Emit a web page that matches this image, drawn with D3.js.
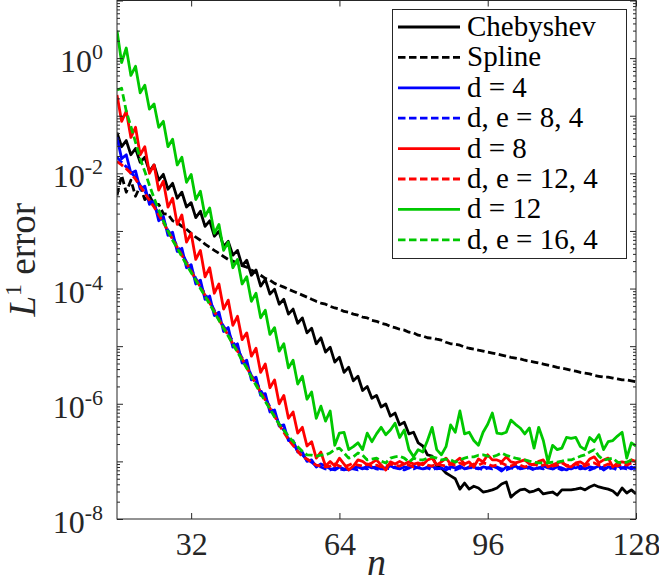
<!DOCTYPE html>
<html>
<head>
<meta charset="utf-8">
<script src="https://cdn.jsdelivr.net/npm/d3@7"></script>
<style>
  body { margin: 0; background: #fff; }
  svg { display: block; font-family: "Liberation Serif", "DejaVu Serif", serif; }
</style>
</head>
<body>
<div id="chart"></div>
<script>
// n runs over every integer from 16 to 128
const nFirst = 16, nLast = 128;
const nValues = d3.range(nFirst, nLast + 1);
const xTicks = [32, 64, 96, 128];
const yLabelExponents = [-8, -6, -4, -2, 0];

const chebyshev = [
  5.1e-2, 2.9e-2, 3.7e-2, 2.1e-2, 2.7e-2, 1.55e-2, 1.9e-2, 1.08e-2, 1.4e-2, 7.6e-3,
  9.6e-3, 5.3e-3, 6.7e-3, 3.7e-3, 4.7e-3, 2.6e-3, 3.1e-3, 1.7e-3, 2.2e-3, 1.2e-3,
  1.5e-3, 8.1e-4, 9.9e-4, 5.4e-4, 6.6e-4, 3.8e-4, 4.6e-4, 2.5e-4, 3.1e-4, 1.7e-4,
  2.1e-4, 1.1e-4, 1.45e-4, 8.0e-5, 9.7e-5, 5.35e-5, 6.5e-5, 3.6e-5, 4.4e-5, 2.5e-5,
  3.1e-5, 1.7e-5, 2.05e-5, 1.1e-5, 1.4e-5, 7.9e-6, 9.6e-6, 5.3e-6, 6.4e-6, 3.5e-6,
  4.3e-6, 2.5e-6, 3.0e-6, 1.7e-6, 2.0e-6, 1.25e-6, 1.4e-6, 8.8e-7, 9.9e-7, 6.1e-7,
  6.9e-7, 4.3e-7, 4.8e-7, 3.0e-7, 3.2e-7, 2.1e-7, 1.85e-7, 1.3e-7, 1.24e-7, 8.3e-8,
  7.7e-8, 6.3e-8, 5.6e-8, 5.0e-8, 3.3e-8, 4.2e-8, 3.3e-8, 3.7e-8, 3.45e-8, 2.94e-8,
  3.06e-8, 3.2e-8, 3.45e-8, 4.05e-8, 4.4e-8, 2.4e-8, 2.83e-8, 3.2e-8, 3.3e-8, 2.94e-8,
  3.06e-8, 3.3e-8, 2.72e-8, 2.83e-8, 2.94e-8, 2.6e-8, 3.2e-8, 3.2e-8, 3.2e-8, 3.3e-8,
  3.45e-8, 3.2e-8, 3.6e-8, 3.9e-8, 3.6e-8, 3.45e-8, 3.3e-8, 3.06e-8, 2.6e-8, 3.45e-8,
  2.83e-8, 3.2e-8, 2.72e-8
];

const spline = [
  4.15e-3, 9.2e-3, 4.7e-3, 7.6e-3, 4.0e-3, 6.0e-3, 3.5e-3, 4.15e-3, 2.8e-3, 2.9e-3,
  2.0e-3, 1.95e-3, 1.5e-3, 1.4e-3, 1.2e-3, 1.07e-3, 9.1e-4, 7.8e-4, 6.9e-4, 5.9e-4,
  5.2e-4, 4.6e-4, 4.1e-4, 3.6e-4, 3.2e-4, 3.0e-4, 2.75e-4, 2.5e-4, 2.35e-4, 2.1e-4,
  1.9e-4, 1.7e-4, 1.5e-4, 1.4e-4, 1.23e-4, 1.14e-4, 1.06e-4, 9.7e-5, 9.0e-5, 8.3e-5,
  7.7e-5, 7.1e-5, 6.5e-5, 6.0e-5, 5.6e-5, 5.35e-5, 4.9e-5, 4.6e-5, 4.4e-5, 4.0e-5,
  3.9e-5, 3.6e-5, 3.45e-5, 3.2e-5, 3.1e-5, 2.8e-5, 2.7e-5, 2.5e-5, 2.4e-5, 2.2e-5,
  2.1e-5, 1.97e-5, 1.9e-5, 1.75e-5, 1.7e-5, 1.55e-5, 1.5e-5, 1.4e-5, 1.38e-5, 1.32e-5,
  1.27e-5, 1.17e-5, 1.1e-5, 1.08e-5, 1.04e-5, 9.6e-6, 9.2e-6, 8.9e-6, 8.5e-6, 8.2e-6,
  7.9e-6, 7.6e-6, 7.3e-6, 7.0e-6, 6.7e-6, 6.4e-6, 6.2e-6, 6.0e-6, 5.7e-6, 5.5e-6,
  5.3e-6, 5.1e-6, 4.9e-6, 4.7e-6, 4.5e-6, 4.3e-6, 4.15e-6, 4.0e-6, 3.8e-6, 3.7e-6,
  3.5e-6, 3.4e-6, 3.3e-6, 3.1e-6, 3.0e-6, 2.9e-6, 2.9e-6, 2.8e-6, 2.7e-6, 2.6e-6,
  2.6e-6, 2.5e-6, 2.4e-6
];

const d4 = [
  4.2e-2, 1.8e-2, 2.1e-2, 1.0e-2, 1.1e-2, 5.3e-3, 6.0e-3, 2.9e-3, 3.3e-3, 1.5e-3,
  1.8e-3, 8.4e-4, 9.5e-4, 4.4e-4, 5.0e-4, 2.3e-4, 2.6e-4, 1.2e-4, 1.4e-4, 6.5e-5,
  7.4e-5, 3.4e-5, 3.9e-5, 1.8e-5, 2.1e-5, 9.6e-6, 1.1e-5, 5.1e-6, 5.7e-6, 2.6e-6,
  2.9e-6, 1.4e-6, 1.5e-6, 7.2e-7, 7.8e-7, 4.1e-7, 4.3e-7, 2.3e-7, 2.3e-7, 1.45e-7,
  1.45e-7, 1.0e-7, 1.06e-7, 8.0e-8, 9.0e-8, 8.3e-8, 7.4e-8, 7.1e-8, 8.0e-8, 7.4e-8,
  7.1e-8, 7.7e-8, 8.0e-8, 7.4e-8, 8.3e-8, 7.7e-8, 8.0e-8, 7.4e-8, 7.7e-8, 8.3e-8,
  7.7e-8, 7.4e-8, 8.0e-8, 7.7e-8, 8.3e-8, 7.7e-8, 7.4e-8, 8.0e-8, 8.3e-8, 7.4e-8,
  7.7e-8, 7.1e-8, 8.0e-8, 7.7e-8, 8.3e-8, 7.4e-8, 7.7e-8, 8.0e-8, 7.4e-8, 8.0e-8,
  7.7e-8, 8.3e-8, 7.7e-8, 6.8e-8, 8.0e-8, 7.7e-8, 8.3e-8, 7.4e-8, 7.7e-8, 8.0e-8,
  7.4e-8, 7.7e-8, 8.3e-8, 7.7e-8, 7.4e-8, 8.0e-8, 7.7e-8, 7.1e-8, 8.0e-8, 7.7e-8,
  8.3e-8, 7.4e-8, 8.0e-8, 7.7e-8, 8.3e-8, 7.1e-8, 8.0e-8, 7.7e-8, 8.3e-8, 7.7e-8,
  8.0e-8, 7.4e-8, 8.0e-8
];

const d8e4 = [
  1.9e-2, 1.55e-2, 1.3e-2, 1.04e-2, 8.5e-3, 6.2e-3, 4.9e-3, 3.5e-3, 2.8e-3, 1.95e-3,
  1.5e-3, 1.03e-3, 7.8e-4, 5.4e-4, 4.1e-4, 2.9e-4, 2.2e-4, 1.5e-4, 1.1e-4, 8.0e-5,
  6.0e-5, 4.2e-5, 3.2e-5, 2.2e-5, 1.7e-5, 1.2e-5, 8.9e-6, 6.2e-6, 4.7e-6, 3.1e-6,
  2.4e-6, 1.7e-6, 1.25e-6, 8.8e-7, 6.9e-7, 4.4e-7, 3.5e-7, 2.5e-7, 2.1e-7, 1.5e-7,
  1.3e-7, 1.06e-7, 9.7e-8, 8.3e-8, 8.0e-8, 7.4e-8, 7.1e-8, 7.7e-8, 7.4e-8, 7.1e-8,
  7.7e-8, 7.4e-8, 7.1e-8, 7.7e-8, 7.4e-8, 8.0e-8, 7.4e-8, 7.1e-8, 7.7e-8, 7.4e-8,
  8.0e-8, 7.4e-8, 7.1e-8, 7.7e-8, 7.4e-8, 8.0e-8, 7.4e-8, 7.7e-8, 7.1e-8, 7.7e-8,
  7.4e-8, 8.0e-8, 7.4e-8, 7.1e-8, 7.7e-8, 7.4e-8, 8.0e-8, 7.4e-8, 7.7e-8, 7.1e-8,
  7.7e-8, 7.4e-8, 8.0e-8, 7.4e-8, 7.1e-8, 7.7e-8, 7.4e-8, 8.0e-8, 7.4e-8, 7.7e-8,
  7.1e-8, 7.7e-8, 7.4e-8, 8.0e-8, 7.4e-8, 7.7e-8, 7.1e-8, 7.7e-8, 7.4e-8, 8.0e-8,
  7.4e-8, 7.7e-8, 7.1e-8, 7.7e-8, 7.4e-8, 8.0e-8, 7.4e-8, 7.7e-8, 7.1e-8, 7.7e-8,
  7.4e-8, 8.0e-8, 7.4e-8
];

const d8 = [
  2.3e-1, 8.0e-2, 1.2e-1, 4.2e-2, 6.3e-2, 2.1e-2, 2.9e-2, 1.0e-2, 1.4e-2, 5.1e-3,
  7.3e-3, 2.6e-3, 3.7e-3, 1.3e-3, 1.9e-3, 6.4e-4, 9.1e-4, 3.2e-4, 4.6e-4, 1.6e-4,
  2.3e-4, 8.3e-5, 1.2e-4, 4.4e-5, 6.3e-5, 2.3e-5, 3.3e-5, 1.3e-5, 1.7e-5, 6.7e-6,
  9.2e-6, 3.5e-6, 4.9e-6, 1.9e-6, 2.6e-6, 1.0e-6, 1.4e-6, 5.6e-7, 7.2e-7, 3.1e-7,
  3.9e-7, 1.85e-7, 2.2e-7, 1.14e-7, 1.45e-7, 8.3e-8, 1.0e-7, 8.3e-8, 1.14e-7, 9.0e-8,
  7.1e-8, 8.3e-8, 1.06e-7, 1.0e-7, 8.7e-8, 9.4e-8, 1.06e-7, 8.7e-8, 7.1e-8, 9.8e-8,
  9.0e-8, 1.0e-7, 9.0e-8, 9.8e-8, 9.0e-8, 9.4e-8, 8.7e-8, 1.06e-7, 1.14e-7, 8.7e-8,
  9.8e-8, 1.14e-7, 9.0e-8, 9.8e-8, 1.14e-7, 9.0e-8, 9.8e-8, 8.0e-8, 1.1e-7, 9.8e-8,
  1.3e-7, 1.06e-7, 1.06e-7, 9.8e-8, 1.2e-7, 9.8e-8, 9.4e-8, 1.0e-7, 1.06e-7, 9.0e-8,
  8.7e-8, 1.0e-7, 1.06e-7, 8.0e-8, 8.7e-8, 9.4e-8, 9.8e-8, 8.3e-8, 8.0e-8, 9.4e-8,
  9.8e-8, 8.7e-8, 1.1e-7, 1.2e-7, 9.4e-8, 1.06e-7, 1.14e-7, 8.0e-8, 9.4e-8, 9.8e-8,
  9.4e-8, 1.06e-7, 1.0e-7
];

const d12e4 = [
  1.6e-2, 1.4e-2, 1.2e-2, 1.0e-2, 7.9e-3, 6.0e-3, 4.5e-3, 3.4e-3, 2.6e-3, 1.9e-3,
  1.4e-3, 9.9e-4, 7.2e-4, 5.2e-4, 3.8e-4, 2.75e-4, 2.0e-4, 1.45e-4, 1.06e-4, 7.7e-5,
  5.6e-5, 4.0e-5, 2.9e-5, 2.1e-5, 1.55e-5, 1.1e-5, 8.2e-6, 6.0e-6, 4.3e-6, 3.0e-6,
  2.2e-6, 1.6e-6, 1.16e-6, 8.4e-7, 6.1e-7, 4.3e-7, 3.2e-7, 2.4e-7, 1.9e-7, 1.5e-7,
  1.2e-7, 1.1e-7, 9.7e-8, 8.6e-8, 8.3e-8, 8.0e-8, 8.3e-8, 9.0e-8, 8.3e-8, 8.0e-8,
  8.6e-8, 9.4e-8, 8.6e-8, 8.3e-8, 9.0e-8, 8.3e-8, 8.6e-8, 8.0e-8, 8.3e-8, 9.0e-8,
  8.6e-8, 8.3e-8, 9.0e-8, 8.6e-8, 8.0e-8, 8.6e-8, 9.4e-8, 8.6e-8, 8.3e-8, 9.0e-8,
  8.6e-8, 8.3e-8, 9.0e-8, 8.6e-8, 9.4e-8, 8.6e-8, 8.3e-8, 9.0e-8, 8.6e-8, 9.4e-8,
  9.0e-8, 8.3e-8, 8.6e-8, 9.4e-8, 8.6e-8, 8.3e-8, 9.0e-8, 8.6e-8, 8.0e-8, 8.6e-8,
  9.0e-8, 8.3e-8, 8.6e-8, 9.0e-8, 8.3e-8, 8.6e-8, 9.4e-8, 8.6e-8, 8.3e-8, 9.0e-8,
  8.6e-8, 8.3e-8, 9.0e-8, 9.4e-8, 8.6e-8, 8.3e-8, 9.0e-8, 8.6e-8, 8.3e-8, 9.0e-8,
  8.6e-8, 9.4e-8, 9.0e-8
];

const d12 = [
  3.0, 0.84, 1.5, 0.50, 0.72, 0.25, 0.34, 0.13, 0.16, 6.3e-2,
  8.0e-2, 2.9e-2, 3.9e-2, 1.4e-2, 1.9e-2, 7.0e-3, 9.6e-3, 3.5e-3, 4.9e-3, 1.8e-3,
  2.5e-3, 9.1e-4, 1.3e-3, 4.6e-4, 6.4e-4, 2.3e-4, 3.2e-4, 1.2e-4, 1.6e-4, 6.0e-5,
  8.3e-5, 3.1e-5, 4.2e-5, 1.6e-5, 2.1e-5, 8.2e-6, 1.1e-5, 4.2e-6, 5.7e-6, 2.2e-6,
  3.0e-6, 1.2e-6, 1.6e-6, 5.6e-7, 9.1e-7, 5.0e-7, 7.5e-7, 1.9e-7, 3.1e-7, 3.2e-7,
  1.6e-7, 1.8e-7, 2.1e-7, 1.6e-7, 3.1e-7, 2.2e-7, 3.0e-7, 3.9e-7, 2.9e-7, 3.5e-7,
  4.6e-7, 2.6e-7, 3.5e-7, 1.6e-7, 1.2e-7, 1.6e-7, 1.45e-7, 2.3e-7, 3.9e-7, 1.6e-7,
  1.3e-7, 1.8e-7, 4.3e-7, 3.2e-7, 7.5e-7, 3.0e-7, 3.2e-7, 2.3e-7, 1.9e-7, 3.2e-7,
  4.4e-7, 6.9e-7, 3.1e-7, 3.0e-7, 3.2e-7, 5.2e-7, 4.4e-7, 3.8e-7, 3.0e-7, 3.8e-7,
  1.7e-7, 3.9e-7, 2.3e-7, 9.8e-8, 1.9e-7, 1.6e-7, 1.7e-7, 2.6e-7, 2.5e-7, 2.6e-7,
  1.8e-7, 1.6e-7, 2.6e-7, 2.2e-7, 2.9e-7, 1.6e-7, 2.2e-7, 2.3e-7, 2.75e-7, 3.2e-7,
  1.14e-7, 2.1e-7, 1.85e-7
];

const d16e4 = [
  2.8e-1, 3.0e-1, 1.2e-1, 6.5e-2, 3.45e-2, 1.8e-2, 1.08e-2, 6.2e-3, 3.7e-3, 2.3e-3,
  1.5e-3, 9.9e-4, 6.9e-4, 5.0e-4, 3.6e-4, 2.6e-4, 1.9e-4, 1.4e-4, 1.0e-4, 7.4e-5,
  5.35e-5, 3.9e-5, 2.8e-5, 2.05e-5, 1.5e-5, 1.08e-5, 7.9e-6, 5.7e-6, 4.15e-6, 2.9e-6,
  2.1e-6, 1.5e-6, 1.1e-6, 8.1e-7, 5.9e-7, 4.4e-7, 3.5e-7, 2.75e-7, 2.2e-7, 1.8e-7,
  1.5e-7, 1.3e-7, 1.28e-7, 1.23e-7, 1.28e-7, 1.3e-7, 1.4e-7, 1.6e-7, 1.7e-7, 1.4e-7,
  1.14e-7, 1.2e-7, 1.4e-7, 1.28e-7, 1.06e-7, 1.1e-7, 1.14e-7, 1.01e-7, 9.4e-8, 1.14e-7,
  1.2e-7, 1.23e-7, 1.14e-7, 9.7e-8, 1.14e-7, 1.06e-7, 1.06e-7, 1.14e-7, 1.2e-7, 1.14e-7,
  1.06e-7, 1.1e-7, 1.06e-7, 9.7e-8, 1.06e-7, 1.14e-7, 1.2e-7, 1.2e-7, 1.28e-7, 1.3e-7,
  1.23e-7, 1.2e-7, 1.28e-7, 1.4e-7, 1.28e-7, 1.2e-7, 1.14e-7, 1.1e-7, 1.06e-7, 1.01e-7,
  9.7e-8, 9.4e-8, 9.4e-8, 9.4e-8, 9.7e-8, 9.7e-8, 1.01e-7, 1.06e-7, 1.06e-7, 1.14e-7,
  1.23e-7, 1.3e-7, 1.45e-7, 1.6e-7, 1.23e-7, 1.06e-7, 1.1e-7, 1.14e-7, 9.7e-8, 9.4e-8,
  9.7e-8, 1.06e-7, 1.01e-7
];

const series = [
  { label: "Chebyshev",   values: chebyshev, color: "#000000", dashed: false },
  { label: "Spline",      values: spline,    color: "#000000", dashed: true },
  { label: "d = 4",       values: d4,        color: "#0000ff", dashed: false },
  { label: "d, e = 8, 4", values: d8e4,      color: "#0000ff", dashed: true },
  { label: "d = 8",       values: d8,        color: "#ff0000", dashed: false },
  { label: "d, e = 12, 4", values: d12e4,    color: "#ff0000", dashed: true },
  { label: "d = 12",      values: d12,       color: "#00c800", dashed: false },
  { label: "d, e = 16, 4", values: d16e4,    color: "#00c800", dashed: true }
];

const width = 659, height = 584;
const margin = { top: 0.5, right: 23, bottom: 65, left: 117 };
const innerRight = width - margin.right;
const innerBottom = height - margin.bottom;
const axisColor = "#262626";
const dashPattern = "7.5,3.5";

const svg = d3.select("#chart")
    .append("svg")
    .attr("width", width)
    .attr("height", height);

const x = d3.scaleLinear()
    .domain([nFirst, nLast])
    .range([margin.left, innerRight]);

const y = d3.scaleLog()
    .domain([1e-8, 10])
    .range([innerBottom, margin.top]);

const decades = d3.range(-8, 2).map(e => Math.pow(10, e));
const minorTicks = [];
d3.range(-8, 1).forEach(e => {
    for (let m = 2; m <= 9; m++) minorTicks.push(m * Math.pow(10, e));
});

svg.append("clipPath")
    .attr("id", "plot-clip")
    .append("rect")
    .attr("x", margin.left)
    .attr("y", margin.top)
    .attr("width", innerRight - margin.left)
    .attr("height", innerBottom - margin.top);

// lines
const line = d3.line()
    .x((d, i) => x(nValues[i]))
    .y(d => y(d));

svg.append("g")
    .attr("clip-path", "url(#plot-clip)")
    .selectAll("path")
    .data(series)
    .join("path")
    .attr("fill", "none")
    .attr("stroke", d => d.color)
    .attr("stroke-width", 2.8)
    .attr("stroke-linejoin", "round")
    .attr("stroke-dasharray", d => d.dashed ? dashPattern : null)
    .attr("d", d => line(d.values));

// axes (ticks point inward, box on)
function styleAxis(g) {
    g.attr("color", axisColor).attr("font-family", null).attr("font-size", null);
    g.select(".domain").remove();
}

svg.append("g")
    .attr("transform", `translate(0,${innerBottom})`)
    .call(d3.axisBottom(x).tickValues(xTicks).tickSizeInner(-6).tickSizeOuter(0))
    .call(styleAxis)
    .call(g => g.selectAll("text")
        .attr("y", 36)
        .attr("dy", null)
        .attr("fill", axisColor)
        .style("font-size", "32px"));

svg.append("g")
    .attr("transform", `translate(0,${margin.top})`)
    .call(d3.axisTop(x).tickValues(xTicks).tickSizeInner(-6).tickSizeOuter(0).tickFormat(""))
    .call(styleAxis);

[[d3.axisLeft, margin.left], [d3.axisRight, innerRight]].forEach(([axisFn, pos]) => {
    svg.append("g")
        .attr("transform", `translate(${pos},0)`)
        .call(axisFn(y).tickValues(decades).tickSizeInner(-6).tickSizeOuter(0).tickFormat(""))
        .call(styleAxis);
    svg.append("g")
        .attr("transform", `translate(${pos},0)`)
        .call(axisFn(y).tickValues(minorTicks).tickSizeInner(-3).tickSizeOuter(0).tickFormat(""))
        .call(styleAxis);
});

svg.append("rect")
    .attr("x", margin.left)
    .attr("y", margin.top)
    .attr("width", innerRight - margin.left)
    .attr("height", innerBottom - margin.top)
    .attr("fill", "none")
    .attr("stroke", axisColor)
    .attr("stroke-width", 1);

// y tick labels 10^k
svg.append("g")
    .selectAll("text")
    .data(yLabelExponents)
    .join("text")
    .attr("x", 103)
    .attr("y", d => y(Math.pow(10, d)) + 14)
    .attr("text-anchor", "end")
    .attr("fill", axisColor)
    .style("font-size", "32px")
    .each(function(d) {
        const t = d3.select(this);
        t.append("tspan").text("10");
        t.append("tspan").attr("dy", -13).style("font-size", "22px").text(d);
    });

// axis labels
svg.append("text")
    .attr("x", (margin.left + innerRight) / 2)
    .attr("y", 575)
    .attr("text-anchor", "middle")
    .attr("fill", axisColor)
    .style("font-size", "38px")
    .style("font-style", "italic")
    .text("n");

svg.append("text")
    .attr("transform", `translate(35,${(margin.top + innerBottom) / 2}) rotate(-90)`)
    .attr("text-anchor", "middle")
    .attr("fill", axisColor)
    .style("font-size", "37px")
    .style("white-space", "pre")
    .call(t => {
        t.append("tspan").style("font-style", "italic").text("L");
        t.append("tspan").attr("dy", -14).style("font-size", "24px").text("1");
        t.append("tspan").attr("dy", 14).text(" error");
    });

// legend
const legend = svg.append("g");
legend.append("rect")
    .attr("x", 392.5)
    .attr("y", 9.5)
    .attr("width", 234)
    .attr("height", 249)
    .attr("fill", "#fff")
    .attr("stroke", axisColor)
    .attr("stroke-width", 1);

const rows = legend.selectAll("g.row")
    .data(series)
    .join("g")
    .attr("class", "row")
    .attr("transform", (d, i) => `translate(0,${27 + i * 30.4})`);

rows.append("line")
    .attr("x1", 398)
    .attr("x2", 460)
    .attr("stroke", d => d.color)
    .attr("stroke-width", 2.8)
    .attr("stroke-dasharray", d => d.dashed ? dashPattern : null);

rows.append("text")
    .attr("x", 467)
    .attr("y", 9)
    .attr("fill", "#000")
    .style("font-size", "29px")
    .style("white-space", "pre")
    .text(d => d.label);
</script>
</body>
</html>
